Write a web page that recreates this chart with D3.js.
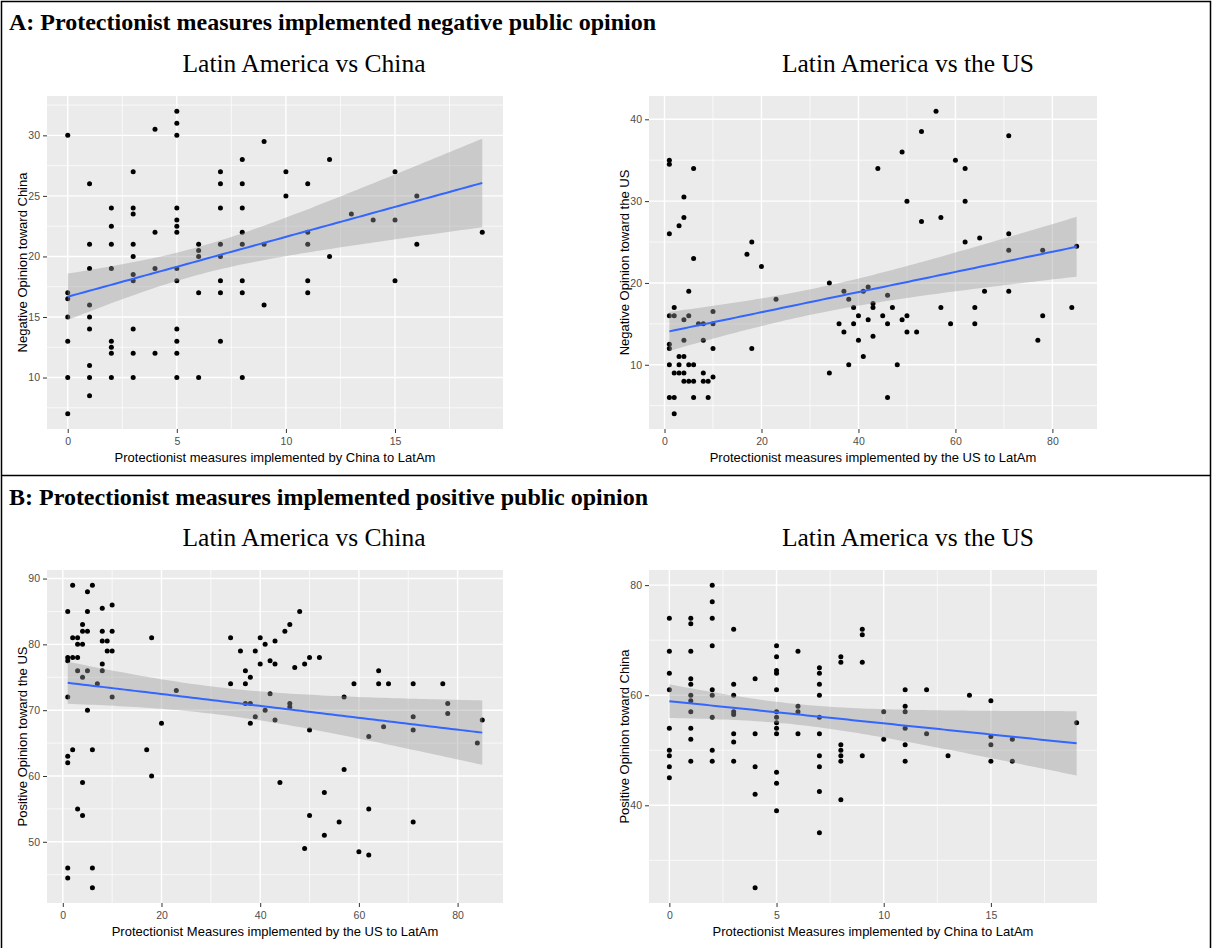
<!DOCTYPE html>
<html>
<head>
<meta charset="utf-8">
<script src="https://cdn.jsdelivr.net/npm/d3@7"></script>
<style>
  html, body { margin: 0; padding: 0; background: #fff; }
  svg { display: block; }
</style>
</head>
<body>
<svg id="chart" width="1212" height="948"></svg>
<script>
// ---------- DATA (grouped by x value) ----------
// Panel A-left: Negative opinion toward China vs China's measures
const negChinaMeasures = [0, 1, 2, 3, 4, 5, 6, 7, 8, 9, 10, 11, 12, 13, 14, 15, 16, 19];
const negChinaOpinion = [
  [30, 17, 16.5, 15, 13, 10, 7],
  [26, 21, 19, 16, 15, 14, 11, 10, 8.5],
  [24, 22.5, 21, 19, 13, 12.5, 12, 10],
  [27, 24, 23.5, 21, 20, 18.5, 18, 14, 12, 10],
  [30.5, 22, 19, 12],
  [32, 31, 30, 24, 23, 22.5, 22, 19, 18, 14, 13, 12, 10],
  [21, 20.5, 20, 17, 10],
  [27, 26, 24, 21, 20, 18, 17, 13],
  [28, 26, 24, 22, 21, 18, 17, 10],
  [29.5, 21, 16],
  [27, 25],
  [26, 22, 21, 18, 17],
  [28, 20],
  [23.5],
  [23],
  [27, 23, 18],
  [25, 21],
  [22]
];

// Panel A-right: Negative opinion toward the US vs US measures
const negUSMeasures = [1, 2, 3, 4, 5, 6, 7, 8, 9, 10, 17, 18, 20, 23, 34, 36, 37, 38, 39, 40, 41, 42, 43, 44, 45, 46, 47, 48, 49, 50, 52, 53, 56, 57, 59, 60, 62, 64, 65, 66, 71, 77, 78, 84, 85];
const negUSOpinion = [
  [35, 34.5, 26, 16, 12.5, 12, 10, 6],
  [17, 16, 9, 6, 4],
  [27, 11, 10, 9],
  [30.5, 28, 15.5, 13, 11, 9, 8],
  [19, 16, 10, 8],
  [34, 23, 10, 8, 6],
  [15],
  [15, 13, 9, 8],
  [8, 6],
  [16.5, 15, 12, 8.5],
  [23.5],
  [25, 12],
  [22],
  [18],
  [20, 9],
  [15],
  [19, 14],
  [18, 10],
  [17, 15],
  [16, 13],
  [19, 11],
  [19.5, 15.5],
  [17.5, 17, 13.5],
  [34],
  [16],
  [18.5, 15, 6],
  [17],
  [10],
  [36, 15.5],
  [30, 16, 14],
  [14],
  [38.5, 27.5],
  [41],
  [28, 17],
  [15],
  [35],
  [34, 30, 25],
  [17, 15],
  [25.5],
  [19],
  [38, 26, 24, 19],
  [13],
  [24, 16],
  [17],
  [24.5]
];

// Panel B-left: Positive opinion toward the US vs US measures
const posUSMeasures = [1, 2, 3, 4, 5, 6, 7, 8, 9, 10, 17, 18, 20, 23, 34, 36, 37, 38, 39, 40, 41, 42, 43, 44, 45, 46, 47, 48, 49, 50, 52, 53, 56, 57, 59, 60, 62, 64, 65, 66, 71, 77, 78, 84, 85];
const posUSOpinion = [
  [85, 78, 77.5, 72, 63, 62, 46, 44.5],
  [89, 81, 78, 64],
  [81, 80, 78, 76, 55],
  [83, 82, 80, 75, 59, 54],
  [88, 85, 82, 76, 70],
  [89, 64, 46, 43],
  [74],
  [85.5, 82, 80.5, 77, 76],
  [80.5, 79],
  [86, 82, 79, 72],
  [64],
  [81, 60],
  [68],
  [73],
  [81, 74],
  [79],
  [76, 74, 71],
  [75, 71, 68],
  [79, 69],
  [81, 77],
  [80, 70],
  [77.5, 72.5],
  [80.5, 77, 68.5],
  [59],
  [82],
  [83, 71, 70.5],
  [76.5],
  [85],
  [77, 49],
  [78, 67, 54],
  [78],
  [57.5, 51],
  [53],
  [72, 61],
  [74],
  [48.5],
  [66, 55, 48],
  [76, 74],
  [67.5],
  [74],
  [74, 69, 67, 53],
  [74],
  [71, 69.5],
  [65],
  [68.5]
];

// Panel B-right: Positive opinion toward China vs China's measures
const posChinaMeasures = [0, 1, 2, 3, 4, 5, 6, 7, 8, 9, 10, 11, 12, 13, 14, 15, 16, 19];
const posChinaOpinion = [
  [74, 68, 64, 61, 54, 50, 49, 47, 45],
  [74, 73, 68, 63, 62, 60, 59, 57, 54, 52, 48],
  [80, 77, 74, 69, 61, 60, 56, 50, 48],
  [72, 62, 60, 57, 56.5, 53, 51.5, 48],
  [63, 53, 47, 42, 25],
  [69, 67, 64.5, 64, 61, 57, 56, 55, 54, 53, 46, 44, 39],
  [68, 58, 57, 53],
  [65, 64, 62, 60, 56, 53, 49, 47, 42.5, 35],
  [67, 66, 51, 50, 49, 48, 41],
  [72, 71, 66, 49],
  [57, 52],
  [61, 58, 57, 54, 51, 48],
  [61, 53],
  [49],
  [60],
  [59, 52.5, 51, 48],
  [52, 48],
  [55]
];

// Tick labels
const ticksNegChinaX = [0, 5, 10, 15];
const ticksNegChinaY = [10, 15, 20, 25, 30];
const ticksNegUSX = [0, 20, 40, 60, 80];
const ticksNegUSY = [10, 20, 30, 40];
const ticksPosUSX = [0, 20, 40, 60, 80];
const ticksPosUSY = [50, 60, 70, 80, 90];
const ticksPosChinaX = [0, 5, 10, 15];
const ticksPosChinaY = [40, 60, 80];

// Texts
const sectionTitles = ["A: Protectionist measures implemented negative public opinion",
                       "B: Protectionist measures implemented positive public opinion"];
const panelTitles = ["Latin America vs China", "Latin America vs the US",
                     "Latin America vs China", "Latin America vs the US"];
const xTitles = ["Protectionist measures implemented by China to LatAm",
                 "Protectionist measures implemented by the US to LatAm",
                 "Protectionist Measures implemented by the US to LatAm",
                 "Protectionist Measures implemented by China to LatAm"];
const yTitles = ["Negative Opinion toward China", "Negative Opinion toward the US",
                 "Positive Opinion toward the US", "Positive Opinion toward China"];

// ---------- DRAW ----------
const svg = d3.select("#chart");
const W = 1212, H = 948;
const SANS = "'Liberation Sans', Arial, Helvetica, sans-serif";
const SERIF = "'Liberation Serif', 'Times New Roman', serif";

function flatten(xs, ys) {
  const out = [];
  xs.forEach((x, i) => ys[i].forEach(y => out.push({x, y})));
  return out;
}

function linfit(pts) {
  const n = pts.length;
  const mx = d3.mean(pts, d => d.x), my = d3.mean(pts, d => d.y);
  let sxx = 0, sxy = 0;
  pts.forEach(d => { sxx += (d.x - mx) ** 2; sxy += (d.x - mx) * (d.y - my); });
  const b = sxy / sxx, a = my - b * mx;
  let sse = 0;
  pts.forEach(d => { sse += (d.y - a - b * d.x) ** 2; });
  const s = Math.sqrt(sse / (n - 2));
  const t = 1.98;
  return {a, b, band: x => t * s * Math.sqrt(1 / n + (x - mx) ** 2 / sxx)};
}

function expandDomain(ext) {
  const r = ext[1] - ext[0];
  return [ext[0] - 0.05 * r, ext[1] + 0.05 * r];
}

function minorOf(ticks, domain) {
  const step = ticks[1] - ticks[0];
  const out = [];
  const start = ticks[0] - step;
  for (let v = start + step / 2; v <= domain[1]; v += step) {
    if (v >= domain[0]) out.push(v);
  }
  return out;
}

function panel(cfg) {
  const pts = flatten(cfg.xs, cfg.ys);
  const xDom = expandDomain(d3.extent(pts, d => d.x));
  const yDom = expandDomain(d3.extent(pts, d => d.y));
  const x = d3.scaleLinear().domain(xDom).range([cfg.left, cfg.right]);
  const y = d3.scaleLinear().domain(yDom).range([cfg.bottom, cfg.top]);
  const g = svg.append("g");

  g.append("rect").attr("x", cfg.left).attr("y", cfg.top)
    .attr("width", cfg.right - cfg.left).attr("height", cfg.bottom - cfg.top)
    .attr("fill", "#EBEBEB");

  // minor grid
  const xMinor = minorOf(cfg.xTicks, xDom), yMinor = minorOf(cfg.yTicks, yDom);
  g.selectAll(".xmin").data(xMinor).join("line")
    .attr("x1", d => x(d)).attr("x2", d => x(d)).attr("y1", cfg.top).attr("y2", cfg.bottom)
    .attr("stroke", "#fff").attr("stroke-width", 0.7);
  g.selectAll(".ymin").data(yMinor).join("line")
    .attr("y1", d => y(d)).attr("y2", d => y(d)).attr("x1", cfg.left).attr("x2", cfg.right)
    .attr("stroke", "#fff").attr("stroke-width", 0.7);
  // major grid
  g.selectAll(".xmaj").data(cfg.xTicks).join("line")
    .attr("x1", d => x(d)).attr("x2", d => x(d)).attr("y1", cfg.top).attr("y2", cfg.bottom)
    .attr("stroke", "#fff").attr("stroke-width", 1.4);
  g.selectAll(".ymaj").data(cfg.yTicks).join("line")
    .attr("y1", d => y(d)).attr("y2", d => y(d)).attr("x1", cfg.left).attr("x2", cfg.right)
    .attr("stroke", "#fff").attr("stroke-width", 1.4);

  // points
  g.append("g").selectAll("circle").data(pts).join("circle")
    .attr("cx", d => x(d.x)).attr("cy", d => y(d.y)).attr("r", 2.5).attr("fill", "#000");

  // smooth (lm with 95% CI)
  const fit = linfit(pts);
  const xe = d3.extent(pts, d => d.x);
  const xs = d3.range(0, 81).map(i => xe[0] + (xe[1] - xe[0]) * i / 80);
  g.append("path").datum(xs)
    .attr("d", d3.area().x(v => x(v))
      .y0(v => y(fit.a + fit.b * v - fit.band(v)))
      .y1(v => y(fit.a + fit.b * v + fit.band(v))))
    .attr("fill", "#999999").attr("fill-opacity", 0.4);
  g.append("path").datum(xs)
    .attr("d", d3.line().x(v => x(v)).y(v => y(fit.a + fit.b * v)))
    .attr("fill", "none").attr("stroke", "#3366FF").attr("stroke-width", 2);

  // axes
  const xAxis = d3.axisBottom(x).tickValues(cfg.xTicks).tickSize(4).tickPadding(5);
  const yAxis = d3.axisLeft(y).tickValues(cfg.yTicks).tickSize(4).tickPadding(3);
  const gx = g.append("g").attr("transform", `translate(0,${cfg.bottom})`).call(xAxis);
  const gy = g.append("g").attr("transform", `translate(${cfg.left},0)`).call(yAxis);
  [gx, gy].forEach(a => {
    a.select(".domain").remove();
    a.selectAll(".tick line").attr("stroke", "#333").attr("stroke-width", 1);
    a.selectAll(".tick text").attr("fill", "#4D4D4D")
      .style("font-family", SANS).style("font-size", "10.5px");
  });

  g.append("text").attr("x", (cfg.left + cfg.right) / 2).attr("y", cfg.bottom + 33)
    .attr("text-anchor", "middle").attr("fill", "#000")
    .style("font-family", SANS).style("font-size", "13px")
    .text(cfg.xTitle);
  g.append("text")
    .attr("transform", `translate(${cfg.left - 20},${(cfg.top + cfg.bottom) / 2}) rotate(-90)`)
    .attr("text-anchor", "middle").attr("fill", "#000")
    .style("font-family", SANS).style("font-size", "13px")
    .text(cfg.yTitle);

  svg.append("text").attr("x", cfg.titleX).attr("y", cfg.titleY)
    .attr("text-anchor", "middle").attr("fill", "#000")
    .style("font-family", SERIF).style("font-size", "25.5px")
    .text(cfg.title);
}

// frame
svg.append("path")
  .attr("d", `M1.5,${H} V1.5 H1210.5 V${H}`)
  .attr("fill", "none").attr("stroke", "#000").attr("stroke-width", 1.5);
svg.append("line").attr("x1", 1).attr("x2", 1211).attr("y1", 475.5).attr("y2", 475.5)
  .attr("stroke", "#000").attr("stroke-width", 1.3);

svg.append("text").attr("x", 9).attr("y", 30)
  .style("font-family", SERIF)
  .style("font-size", "24px").style("font-weight", "bold").text(sectionTitles[0]);
svg.append("text").attr("x", 9).attr("y", 505)
  .style("font-family", SERIF)
  .style("font-size", "24px").style("font-weight", "bold").text(sectionTitles[1]);

panel({xs: negChinaMeasures, ys: negChinaOpinion, xTicks: ticksNegChinaX, yTicks: ticksNegChinaY,
  left: 47, right: 503, top: 96, bottom: 429, xTitle: xTitles[0], yTitle: yTitles[0],
  title: panelTitles[0], titleX: 304, titleY: 72});
panel({xs: negUSMeasures, ys: negUSOpinion, xTicks: ticksNegUSX, yTicks: ticksNegUSY,
  left: 649, right: 1097, top: 96, bottom: 429, xTitle: xTitles[1], yTitle: yTitles[1],
  title: panelTitles[1], titleX: 908, titleY: 72});
panel({xs: posUSMeasures, ys: posUSOpinion, xTicks: ticksPosUSX, yTicks: ticksPosUSY,
  left: 47, right: 503, top: 570, bottom: 903, xTitle: xTitles[2], yTitle: yTitles[2],
  title: panelTitles[2], titleX: 304, titleY: 546});
panel({xs: posChinaMeasures, ys: posChinaOpinion, xTicks: ticksPosChinaX, yTicks: ticksPosChinaY,
  left: 649, right: 1097, top: 570, bottom: 903, xTitle: xTitles[3], yTitle: yTitles[3],
  title: panelTitles[3], titleX: 908, titleY: 546});
</script>
</body>
</html>
